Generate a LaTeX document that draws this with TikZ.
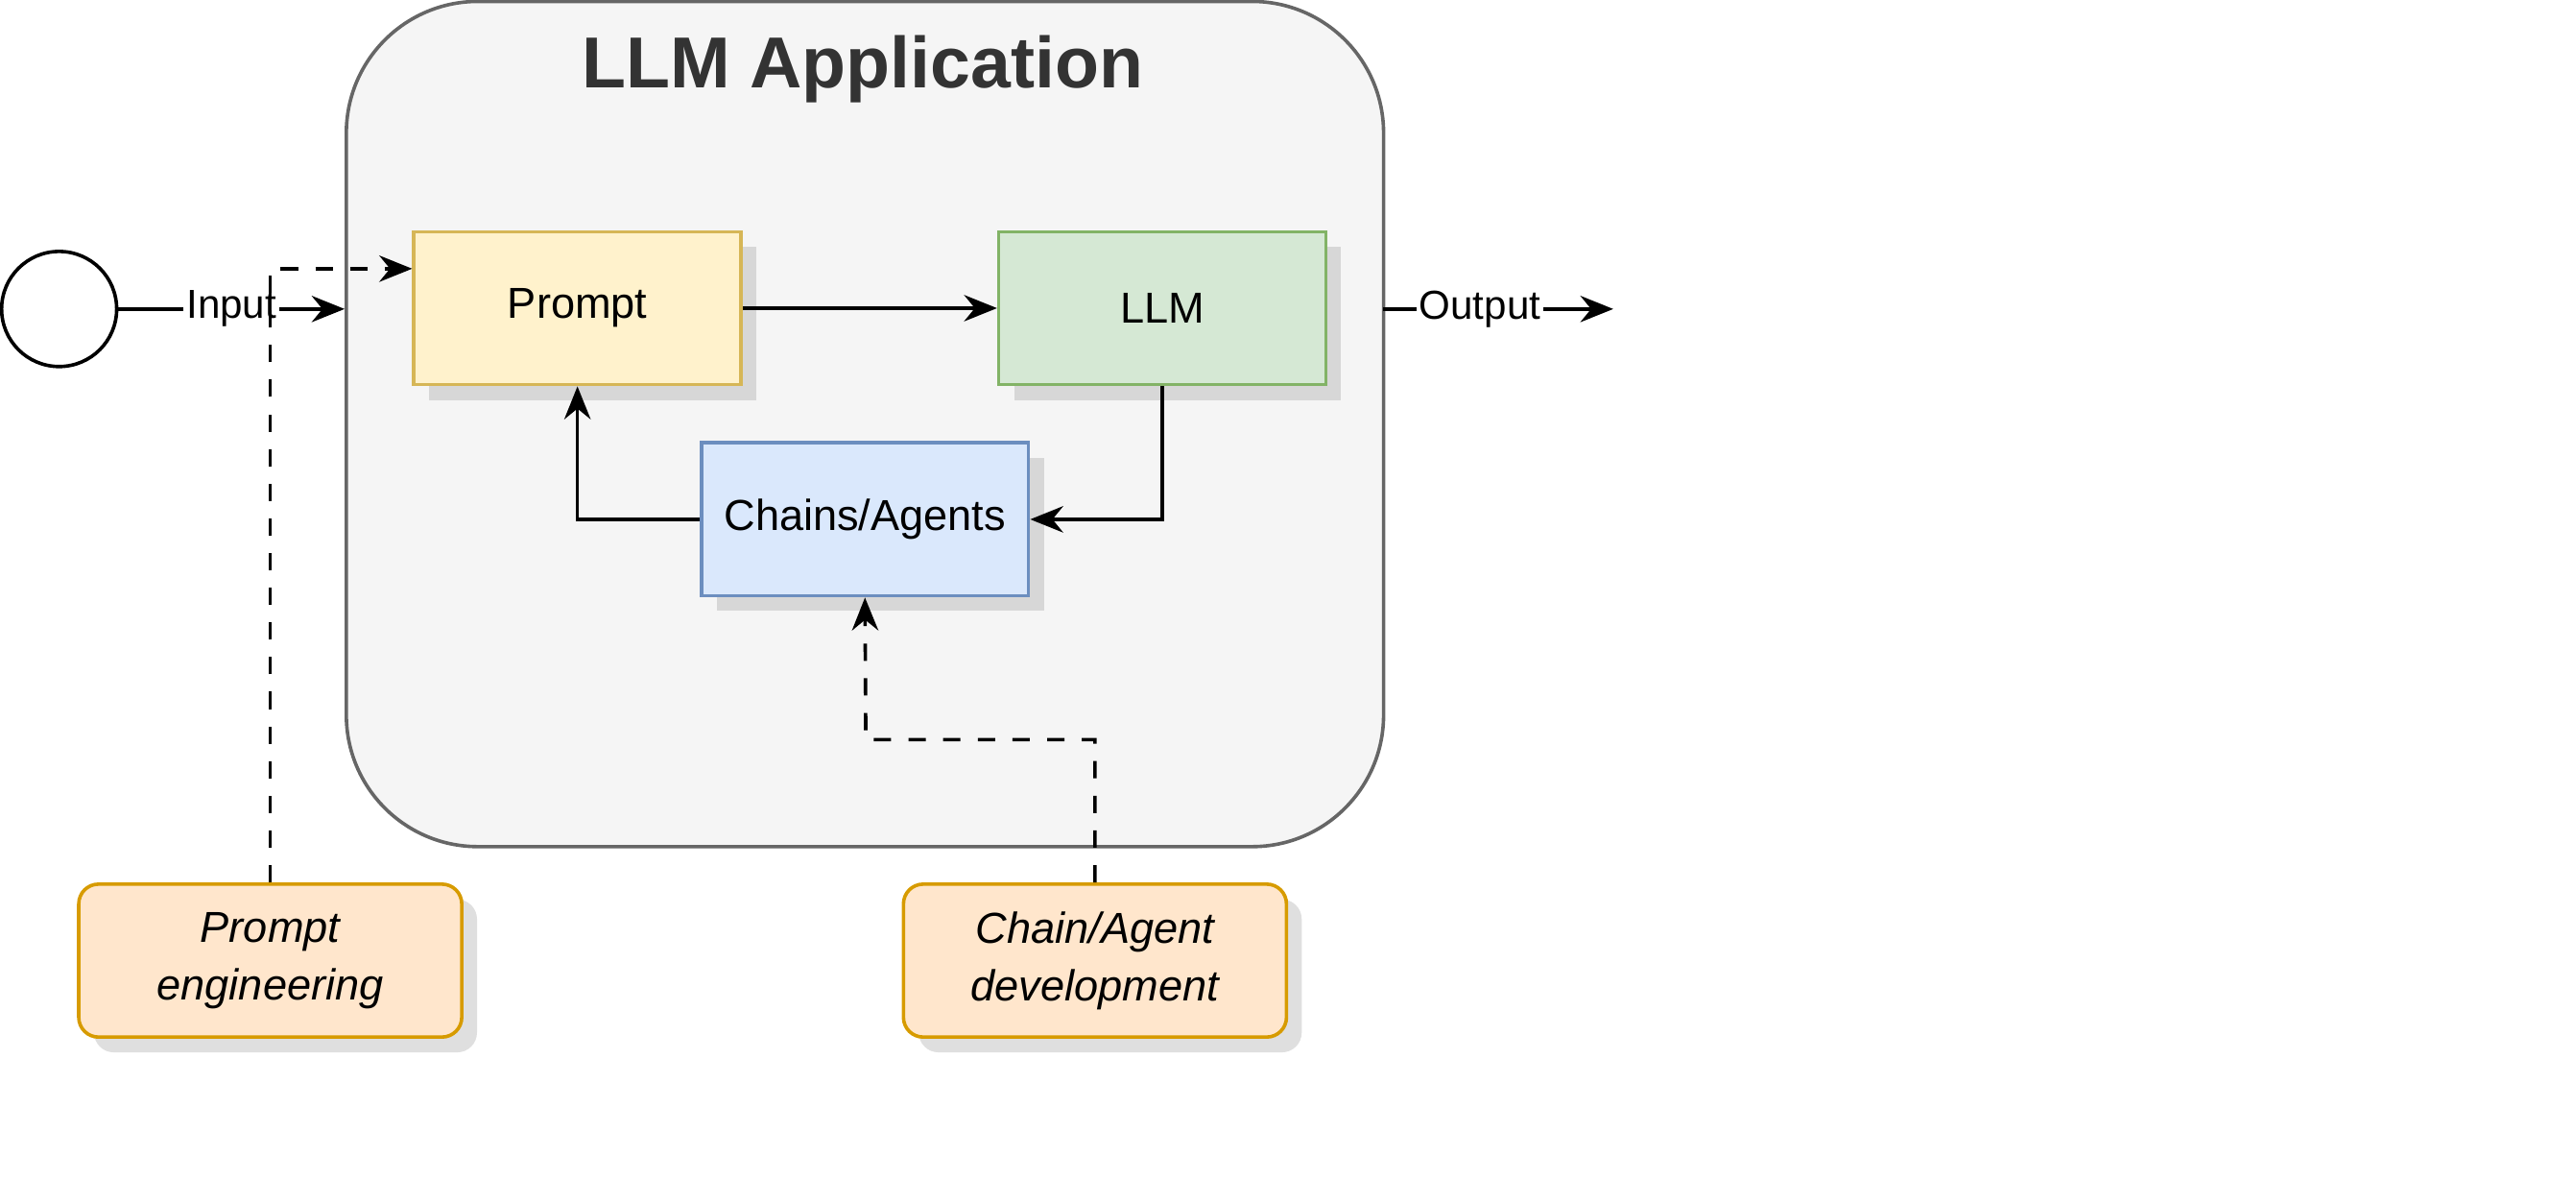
\documentclass[tikz,border=0pt]{standalone}
\usepackage{fontspec}
\setmainfont{Liberation Sans}
\usetikzlibrary{arrows.meta,shadows,positioning}
\definecolor{appfill}{HTML}{F5F5F5}
\definecolor{appdraw}{HTML}{666666}
\definecolor{ylwfill}{HTML}{FFF2CC}
\definecolor{ylwdraw}{HTML}{D6B656}
\definecolor{grnfill}{HTML}{D5E8D4}
\definecolor{grndraw}{HTML}{82B366}
\definecolor{blufill}{HTML}{DAE8FC}
\definecolor{bludraw}{HTML}{6C8EBF}
\definecolor{orgfill}{HTML}{FFE6CC}
\definecolor{orgdraw}{HTML}{D79B00}
\tikzset{
  block/.style={draw=#1draw,fill=#1fill,line width=0.6pt,minimum width=1.99cm,
    minimum height=0.93cm,font=\fontsize{7.5}{9}\selectfont,drop shadow={opacity=0.25}},
  task/.style={block=org,rounded corners=0.12cm,minimum width=2.33cm,align=center,
    font=\fontsize{7.5}{10}\selectfont\itshape},
  link/.style={line width=0.6pt,-{Stealth[length=0.2cm,width=0.16cm]}},
  lbl/.style={font=\fontsize{7}{8}\selectfont,fill=white,inner sep=0.5pt}
}
\begin{document}
\begin{tikzpicture}[x=0.01cm,y=-0.01cm]
  \useasboundingbox (0,0) rectangle (1568,717);
  % container
  \node[draw=appdraw,fill=appfill,line width=0.6pt,rounded corners=0.8cm,
    minimum width=6.31cm,minimum height=5.14cm] (app) at (526.5,258) {};
  \node[font=\fontsize{12.5}{14}\selectfont\bfseries,text=black!80] (title) at (525,42) {LLM Application};
  % blocks
  \node[block=ylw] (prompt) at (351.5,187.5) {Prompt};
  \node[block=grn] (llm) at (707.5,187.5) {LLM};
  \node[block=blu] (chains) at (526.5,316) {Chains/Agents};
  \node[task] (pe) at (164.5,584.5) {Prompt\\engineering};
  \node[task] (cad) at (666.5,584.5) {Chain/Agent\\development};
  % input / output
  \node[circle,draw,line width=0.6pt,minimum size=0.7cm] (start) at (36,188) {};
  \coordinate (in) at (app.west |- start);
  \coordinate (outa) at (842,188);
  \coordinate (outb) at (982,188);
  \draw[link] (start) -- node[lbl] {Input} (in);
  \draw[link] (outa) -- node[lbl,pos=0.42] {Output} (outb);
  % flow
  \draw[link] (prompt) -- (llm);
  \draw[link] (llm.south) |- (chains.east);
  \draw[link] (chains.west) -| (prompt.south);
  % dashed
  \draw[link,dashed] (pe.north) |- ([yshift=0.24cm]prompt.west);
  \draw[link,dashed] (cad.north) |- (527,450) -- (chains.south);
\end{tikzpicture}
\end{document}
